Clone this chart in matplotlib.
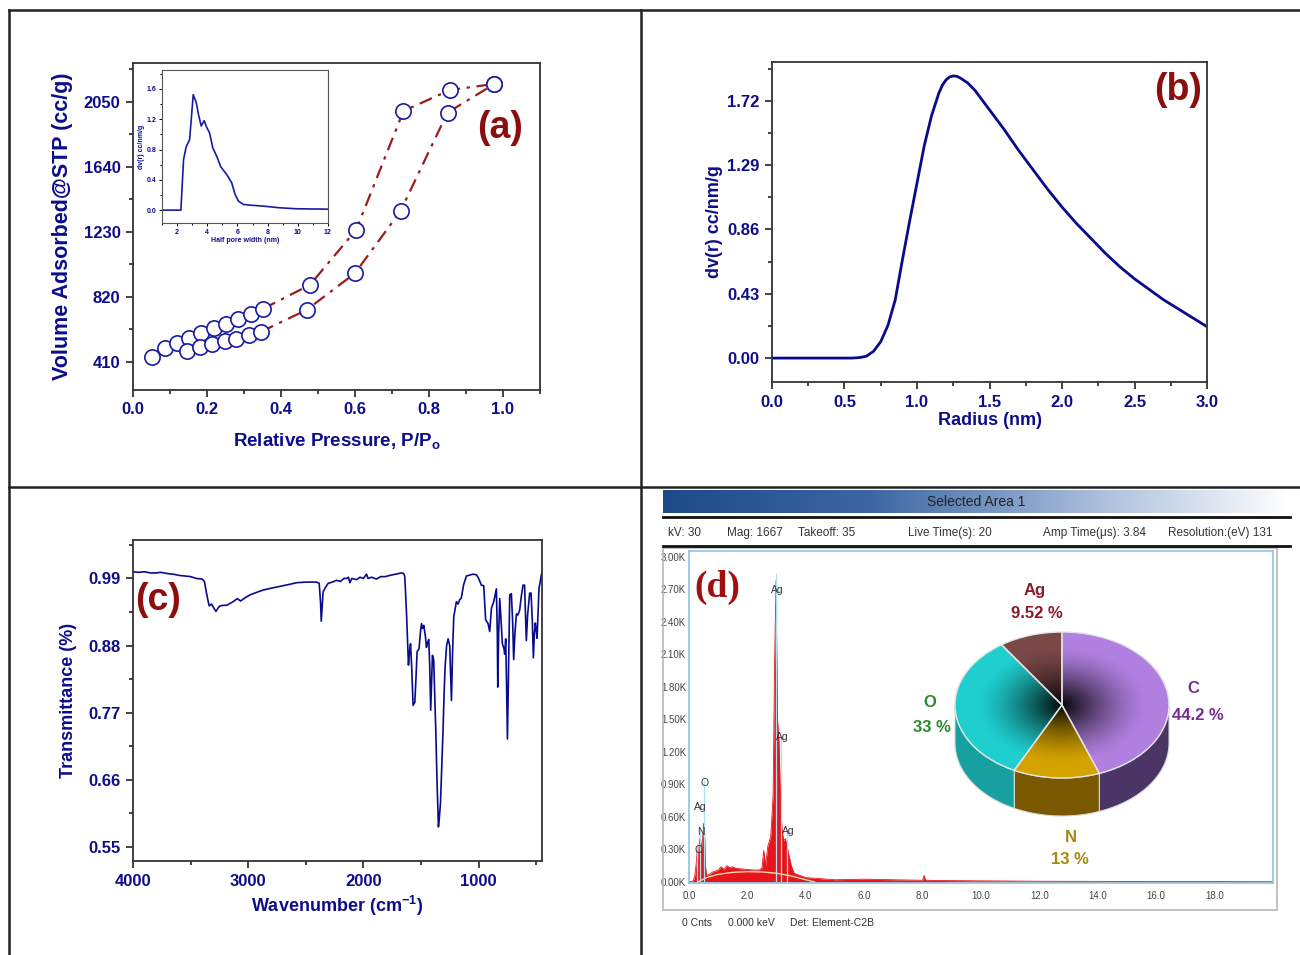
import numpy as np
import matplotlib
matplotlib.use("Agg")
import matplotlib.pyplot as plt
from matplotlib.lines import Line2D
from matplotlib.patches import Rectangle, Polygon, Circle
from matplotlib.colors import LinearSegmentedColormap
from matplotlib.ticker import MultipleLocator, AutoMinorLocator

plt.rcParams['font.family'] = ['Liberation Sans', 'DejaVu Sans']
plt.rcParams['mathtext.fontset'] = 'custom'
plt.rcParams['mathtext.rm'] = 'Liberation Sans'
plt.rcParams['mathtext.bf'] = 'Liberation Sans:bold'
plt.rcParams['mathtext.default'] = 'bf'

NAVY = '#0d0d8c'
DRED = '#8b0f0f'
NARROW = ['Liberation Sans Narrow', 'Liberation Sans', 'DejaVu Sans']

# ---- (a) N2 isotherm ----
p_upper = [0.050, 0.087, 0.118, 0.152, 0.184, 0.220, 0.251, 0.285, 0.318, 0.352, 0.478, 0.603, 0.731, 0.857, 0.977]
v_upper = [443, 496, 528, 563, 591, 626, 650, 681, 713, 746, 896, 1243, 1993, 2126, 2164]
p_lower = [0.147, 0.181, 0.213, 0.249, 0.278, 0.314, 0.346, 0.469, 0.600, 0.723, 0.850, 0.977]
v_lower = [479, 503, 522, 542, 553, 580, 601, 738, 970, 1362, 1983, 2164]

# inset: pore size distribution
hw = [1.0, 2.0, 2.25, 2.43, 2.6, 2.83, 2.94, 3.07, 3.27, 3.42, 3.6, 3.79, 3.97, 4.15, 4.37, 4.63,
      4.9, 5.29, 5.62, 5.84, 6.06, 6.39, 6.83, 7.7, 8.8, 9.9, 12.0]
hw_dv = [0.0, 0.0, 0.0, 0.67, 0.835, 0.93, 1.2, 1.525, 1.42, 1.26, 1.11, 1.18, 1.09, 1.02, 0.82, 0.71,
         0.57, 0.47, 0.36, 0.21, 0.12, 0.075, 0.066, 0.053, 0.031, 0.018, 0.013]

# ---- (b) pore size distribution ----
radius = [0.0, 0.3, 0.55, 0.6, 0.65, 0.7, 0.75, 0.8, 0.85, 0.9, 0.95, 1.0, 1.05, 1.1, 1.15, 1.175, 1.2, 1.225,
          1.25, 1.275, 1.3, 1.35, 1.4, 1.5, 1.6, 1.7, 1.8, 1.9, 2.0, 2.1, 2.2, 2.3, 2.4, 2.5, 2.6, 2.7, 2.8,
          2.9, 3.0]
dvr = [0.0, 0.0, 0.0, 0.003, 0.012, 0.045, 0.11, 0.22, 0.39, 0.66, 0.92, 1.17, 1.42, 1.62, 1.77, 1.825, 1.86,
       1.88, 1.887, 1.884, 1.872, 1.84, 1.79, 1.66, 1.53, 1.39, 1.26, 1.13, 1.01, 0.90, 0.80, 0.70, 0.61,
       0.53, 0.46, 0.39, 0.33, 0.27, 0.21]

# ---- (c) FTIR ----
wavenumber = [4000, 3950, 3900, 3850, 3800, 3760, 3700, 3650, 3600, 3550, 3500, 3450, 3400, 3380, 3361, 3345,
              3338, 3318, 3300, 3280, 3260, 3245, 3215, 3187, 3150, 3130, 3095, 3066, 3030, 2985, 2930, 2870,
              2800, 2725, 2650, 2580, 2500, 2407, 2384, 2372, 2366, 2358, 2350, 2330, 2306, 2270, 2234, 2200,
              2170, 2147, 2130, 2118, 2100, 2060, 2030, 2000, 1973, 1960, 1930, 1887, 1850, 1810, 1771, 1720,
              1670, 1650, 1641, 1626, 1609, 1600, 1591, 1580, 1569, 1554, 1543, 1534, 1517, 1506, 1496, 1486,
              1476, 1462, 1453, 1443, 1433, 1425, 1416, 1408, 1401, 1390, 1380, 1372, 1360, 1349, 1340, 1331,
              1320, 1309, 1300, 1291, 1278, 1265, 1251, 1243, 1236, 1226, 1216, 1193, 1179, 1165, 1150, 1130,
              1106, 1070, 1049, 1019, 1000, 976, 956, 939, 918, 904, 889, 869, 846, 838, 834, 826, 817, 805,
              794, 780, 774, 765, 758, 750, 740, 730, 716, 705, 696, 685, 672, 660, 644, 630, 615, 601, 595,
              586, 575, 557, 545, 534, 525, 516, 508, 500, 493, 485, 476, 465, 455]
transmittance = [1.001, 1.000, 1.001, 0.999, 0.999, 1.000, 0.998, 0.997, 0.995, 0.994, 0.993, 0.990, 0.989,
                 0.985, 0.965, 0.950, 0.945, 0.948, 0.942, 0.936, 0.942, 0.945, 0.946, 0.946, 0.950, 0.952,
                 0.957, 0.953, 0.958, 0.963, 0.967, 0.971, 0.974, 0.977, 0.980, 0.983, 0.984, 0.984, 0.982,
                 0.950, 0.920, 0.945, 0.968, 0.975, 0.982, 0.984, 0.987, 0.985, 0.990, 0.990, 0.992, 0.983,
                 0.990, 0.988, 0.992, 0.990, 0.997, 0.990, 0.992, 0.989, 0.993, 0.993, 0.995, 0.997, 0.999,
                 0.998, 0.993, 0.933, 0.848, 0.870, 0.883, 0.840, 0.782, 0.787, 0.830, 0.870, 0.875, 0.900,
                 0.916, 0.908, 0.913, 0.895, 0.877, 0.885, 0.890, 0.850, 0.774, 0.820, 0.864, 0.856, 0.790,
                 0.741, 0.650, 0.583, 0.600, 0.623, 0.680, 0.741, 0.800, 0.845, 0.880, 0.891, 0.880, 0.830,
                 0.790, 0.870, 0.927, 0.952, 0.948, 0.955, 0.958, 0.980, 0.994, 0.996, 0.997, 0.996, 0.990,
                 0.979, 0.978, 0.922, 0.916, 0.903, 0.941, 0.952, 0.973, 0.900, 0.812, 0.900, 0.957, 0.920,
                 0.883, 0.875, 0.866, 0.891, 0.820, 0.727, 0.850, 0.963, 0.965, 0.920, 0.857, 0.900, 0.932,
                 0.930, 0.938, 0.960, 0.979, 0.979, 0.940, 0.888, 0.930, 0.966, 0.966, 0.920, 0.860, 0.900,
                 0.917, 0.905, 0.892, 0.930, 0.974, 0.985, 0.997]

# ---- (d) EDS ----
energy = [0.0, 0.15, 0.2, 0.25, 0.28, 0.31, 0.35, 0.39, 0.42, 0.46, 0.5, 0.53, 0.56, 0.6, 0.7, 0.8, 1.0, 1.1,
          1.2, 1.3, 1.4, 1.5, 1.6, 1.8, 2.0, 2.2, 2.4, 2.5, 2.56, 2.62, 2.7, 2.8, 2.88, 2.93, 2.98, 3.03, 3.08,
          3.13, 3.18, 3.24, 3.3, 3.36, 3.42, 3.5, 3.6, 3.8, 4.0, 4.5, 5.0, 6.0, 7.0, 8.0, 8.05, 8.1, 9.0, 10.0,
          11.0, 12.0, 14.0, 16.0, 18.0, 20.0]
counts = [0, 10, 60, 180, 300, 200, 350, 420, 300, 380, 540, 480, 150, 60, 70, 90, 110, 140, 115, 150, 130,
          140, 125, 120, 115, 110, 110, 130, 290, 150, 330, 420, 800, 2000, 2780, 1500, 1300, 800, 500, 380,
          400, 330, 250, 150, 80, 60, 40, 30, 20, 25, 20, 15, 60, 15, 12, 10, 8, 6, 5, 4, 3, 2]
bg_energy = [0.3, 0.6, 1.0, 1.5, 2.0, 2.5, 3.0, 3.5, 4.0, 4.3]
bg_counts = [0, 40, 70, 88, 95, 92, 80, 55, 20, 0]
line_energy = [0.28, 0.39, 0.52, 2.98, 3.15, 3.35]
line_height = [330, 500, 940, 2850, 1330, 480]
peak_labels = ['C', 'N', 'O', 'Ag', 'Ag', 'Ag']

elements = ['C', 'N', 'O', 'Ag']
wt_pct = [44.2, 13, 33, 9.52]
pct_labels = ['44.2 %', '13 %', '33 %', '9.52 %']


fig = plt.figure(figsize=(13, 9.55), dpi=100)


def fx(x):
    return x / 1300


def fy(y):
    return 1 - y / 955


def rect(l, t, r, b):
    return [fx(l), fy(b), fx(r) - fx(l), fy(t) - fy(b)]


def style(ax, size=12):
    ax.tick_params(which='both', direction='out', colors='#222', labelcolor=NAVY,
                   labelsize=size, width=1.2, pad=4)
    ax.tick_params(which='major', length=5)
    ax.tick_params(which='minor', length=3)
    for lab in ax.get_xticklabels() + ax.get_yticklabels():
        lab.set_fontweight('bold')
    for s in ax.spines.values():
        s.set_linewidth(1.3)
        s.set_color('#333')


# frame lines of the composite
for xs, ys in [([9, 1300], [10, 10]), ([9, 9], [10, 955]), ([641, 641], [10, 955]), ([9, 1300], [487, 487])]:
    fig.add_artist(Line2D([fx(v) for v in xs], [fy(v) for v in ys], color='#222', lw=1.8))

# ---------------- (a)
ax = fig.add_axes(rect(133, 63, 540, 390))
ls = (0, (6, 3, 1.5, 3))
n_up = 9
n_lo = 6
ax.plot(p_upper[n_up:], v_upper[n_up:], ls=ls, color='#9b1c1c', lw=1.6, zorder=2)
ax.plot(p_lower[n_lo:], v_lower[n_lo:], ls=ls, color='#9b1c1c', lw=1.6, zorder=2)
ax.plot(p_upper, v_upper, 'o', ms=11, mfc='white', mec='#1a1aa0', mew=1.2, ls='none', zorder=3)
ax.plot(p_lower, v_lower, 'o', ms=11, mfc='white', mec='#1a1aa0', mew=1.2, ls='none', zorder=3)
ax.set_xlim(0, 1.1)
ax.set_ylim(233, 2296)
ax.set_xticks([0.0, 0.2, 0.4, 0.6, 0.8, 1.0])
ax.set_yticks([410, 820, 1230, 1640, 2050])
ax.xaxis.set_minor_locator(MultipleLocator(0.1))
ax.yaxis.set_minor_locator(MultipleLocator(205))
style(ax)
ax.set_xlabel(r'Relative Pressure, P/P$_\mathbf{o}$', fontsize=13.5, fontweight='bold', color=NAVY, labelpad=10)
ax.set_ylabel('Volume Adsorbed@STP (cc/g)', fontsize=15.5, fontweight='bold', color=NAVY, labelpad=8)
fig.text(fx(500), fy(128), '(a)', fontsize=27, fontweight='bold', color=DRED, ha='center', va='center')

axi = fig.add_axes(rect(162, 70, 328, 223))
axi.plot(hw, hw_dv, color='#1a1aa0', lw=1.2)
axi.set_xlim(1, 12)
axi.set_ylim(-0.17, 1.85)
axi.set_xticks([2, 4, 6, 8, 10, 12])
axi.set_yticks([0.0, 0.4, 0.8, 1.2, 1.6])
axi.yaxis.set_major_formatter(matplotlib.ticker.FormatStrFormatter('%.1f'))
axi.xaxis.set_minor_locator(MultipleLocator(1))
axi.yaxis.set_minor_locator(MultipleLocator(0.2))
axi.tick_params(which='both', direction='out', labelsize=5, labelcolor=NAVY, width=0.7, pad=1.5)
axi.tick_params(which='major', length=2.5)
axi.tick_params(which='minor', length=1.5)
for lab in axi.get_xticklabels() + axi.get_yticklabels():
    lab.set_fontweight('bold')
for s in axi.spines.values():
    s.set_linewidth(0.8)
    s.set_color('#555')
axi.set_xlabel('Half pore width (nm)', fontsize=5, fontweight='bold', color=NAVY, labelpad=1)
axi.set_ylabel('dv(r) cc/nm/g', fontsize=5, fontweight='bold', color=NAVY, labelpad=1)

# ---------------- (b)
axb = fig.add_axes(rect(772, 62, 1207, 382))
axb.plot(radius, dvr, color='#0a0a8c', lw=2)
axb.set_xlim(0, 3.0)
axb.set_ylim(-0.16, 1.98)
axb.set_xticks([0.0, 0.5, 1.0, 1.5, 2.0, 2.5, 3.0])
axb.set_yticks([0.0, 0.43, 0.86, 1.29, 1.72])
axb.yaxis.set_major_formatter(matplotlib.ticker.FormatStrFormatter('%.2f'))
axb.xaxis.set_minor_locator(MultipleLocator(0.25))
axb.yaxis.set_minor_locator(MultipleLocator(0.215))
style(axb)
axb.set_xlabel('Radius (nm)', fontsize=13, fontweight='bold', color=NAVY, labelpad=2)
axb.set_ylabel('dv(r) cc/nm/g', fontsize=13, fontweight='bold', color=NAVY, labelpad=3)
fig.text(fx(1178), fy(90), '(b)', fontsize=27, fontweight='bold', color=DRED, ha='center', va='center')

# ---------------- (c)
axc = fig.add_axes(rect(133, 540, 542, 861))
axc.plot(wavenumber, transmittance, color='#0a0a8c', lw=1.2)
axc.set_xlim(4000, 450)
axc.set_ylim(0.527, 1.053)
axc.set_xticks([4000, 3000, 2000, 1000])
axc.set_yticks([0.55, 0.66, 0.77, 0.88, 0.99])
axc.xaxis.set_minor_locator(MultipleLocator(500))
axc.yaxis.set_minor_locator(MultipleLocator(0.055))
style(axc)
axc.set_xlabel(r'Wavenumber (cm$^{-1}$)', fontsize=13, fontweight='bold', color=NAVY, labelpad=4)
axc.set_ylabel('Transmittance (%)', fontsize=13, fontweight='bold', color=NAVY, labelpad=8)
fig.text(fx(158), fy(600), '(c)', fontsize=27, fontweight='bold', color=DRED, ha='center', va='center')

# ---------------- (d) EDS screenshot
axh = fig.add_axes(rect(663, 490, 1290, 513))
grad = LinearSegmentedColormap.from_list('hdr', ['#1d4a8a', '#3d67a3', '#a3b8d8', '#ffffff'])
axh.imshow(np.linspace(0, 1, 256)[None, :], aspect='auto', cmap=grad, extent=(0, 1, 0, 1))
axh.set_axis_off()
axh.text(0.5, 0.5, 'Selected Area 1', ha='center', va='center', fontsize=10, color='#222', family=NARROW)

for yy in [517, 546]:
    fig.add_artist(Line2D([fx(663), fx(1290)], [fy(yy), fy(yy)], color='#111', lw=2))
info = [(668, 'kV: 30'), (727, 'Mag: 1667'), (798, 'Takeoff: 35'), (908, 'Live Time(s): 20'),
        (1043, 'Amp Time(μs): 3.84'), (1168, 'Resolution:(eV) 131')]
for x0, t in info:
    fig.text(fx(x0), fy(533), t, fontsize=8.5, color='#333', va='center', family=NARROW)

fig.add_artist(Rectangle((fx(663), fy(910)), fx(1277) - fx(663), fy(548) - fy(910),
                         transform=fig.transFigure, fill=False, ec='#b8b8b8', lw=1.2))

axd = fig.add_axes(rect(689, 551, 1273, 883))
axd.fill_between(energy, counts, color='#e8141c', lw=0)
axd.plot(energy, counts, color='#e8141c', lw=0.6)
axd.plot(bg_energy, bg_counts, color='#ead9a4', lw=1)
axd.vlines(line_energy, 0, line_height, color='#a8e4f0', lw=0.9)
axd.set_xlim(0, 20)
axd.set_ylim(-10, 3055)
axd.set_xticks(np.arange(0, 20, 2))
axd.set_xticklabels([f'{v:.1f}' for v in np.arange(0, 20, 2)])
yt = np.arange(0, 3001, 300)
axd.set_yticks(yt)
axd.set_yticklabels([f'{v / 1000:.2f}K' for v in yt])
axd.tick_params(length=0, labelsize=7, labelcolor='#444', pad=2)
axd.tick_params(axis='x', pad=6)
for lab in axd.get_xticklabels() + axd.get_yticklabels():
    lab.set_family(NARROW)
for s in axd.spines.values():
    s.set_color('#8cc4e0')
    s.set_linewidth(1.2)

eds_text = [(777, 590, 'Ag'), (782, 737, 'Ag'), (788, 831, 'Ag'), (705, 783, 'O'),
            (700, 807, 'Ag'), (701, 832, 'N'), (698, 850, 'C')]
for x0, y0, t in eds_text:
    fig.text(fx(x0), fy(y0), t, fontsize=7.5, color='#333', ha='center', va='center', family=NARROW)
fig.text(fx(717), fy(587), '(d)', fontsize=27, fontweight='bold', color='#a01010', ha='center',
         va='center', family=['Liberation Serif', 'DejaVu Serif'])

for x0, t in [(682, '0 Cnts'), (728, '0.000 keV'), (790, 'Det: Element-C2B')]:
    fig.text(fx(x0), fy(923), t, fontsize=7.5, color='#333', va='center', family=NARROW)

# 3D-looking pie
axp = fig.add_axes(rect(932, 615, 1192, 835))
axp.patch.set_alpha(0)
top_cols = ['#b07fe0', '#d4a300', '#1fcfcf', '#7b4848']
side_cols = ['#4b3566', '#7a5800', '#16a0a0', '#4a2a2a']
wedges, _ = axp.pie(wt_pct, startangle=90, counterclock=False, colors=top_cols, radius=1,
                    wedgeprops=dict(edgecolor='none', zorder=2))
depth = 38 / 73
for w, c in zip(wedges, side_cols):
    for lo, hi in [(-180, 0), (180, 360)]:
        a, b = max(w.theta1, lo), min(w.theta2, hi)
        if b <= a:
            continue
        t = np.radians(np.linspace(a, b, 80))
        top = np.column_stack([np.cos(t), np.sin(t)])
        bot = np.column_stack([np.cos(t), np.sin(t) - depth])[::-1]
        axp.add_patch(Polygon(np.vstack([top, bot]), closed=True, fc=c, ec='#d8d8d8', lw=0.8, zorder=1))

gx, gy = np.meshgrid(np.linspace(-1, 1, 300), np.linspace(-1, 1, 300))
rr = np.sqrt(gx ** 2 + gy ** 2)
shade = np.zeros((300, 300, 4))
shade[..., 3] = np.clip(1 - rr / 0.8, 0, 1) ** 1.4 * 0.97
im = axp.imshow(shade, extent=(-1, 1, -1, 1), aspect='auto', zorder=3, origin='lower')
im.set_clip_path(Circle((0, 0), 1, transform=axp.transData))
axp.pie(wt_pct, startangle=90, counterclock=False, radius=1,
        wedgeprops=dict(facecolor='none', edgecolor='#e4e4e4', lw=1, zorder=4))
axp.set_aspect('auto')
axp.set_xlim(-130 / 107, 130 / 107)
axp.set_ylim(-130 / 73, 90 / 73)
axp.set_axis_off()

label_pos = {'C': ((1193, 688), (1198, 715), '#7b2a90'),
             'N': ((1071, 837), (1070, 860), '#a08a10'),
             'O': ((930, 702), (932, 727), '#2a8a2a'),
             'Ag': ((1035, 590), (1037, 613), '#8b1a2a')}
for el, pl in zip(elements, pct_labels):
    (x1, y1), (x2, y2), col = label_pos[el]
    fig.text(fx(x1), fy(y1), el, fontsize=12, fontweight='bold', color=col, ha='center', va='center', family=NARROW)
    fig.text(fx(x2), fy(y2), pl, fontsize=12, fontweight='bold', color=col, ha='center', va='center', family=NARROW)

fig.savefig('out.png', dpi=100)
